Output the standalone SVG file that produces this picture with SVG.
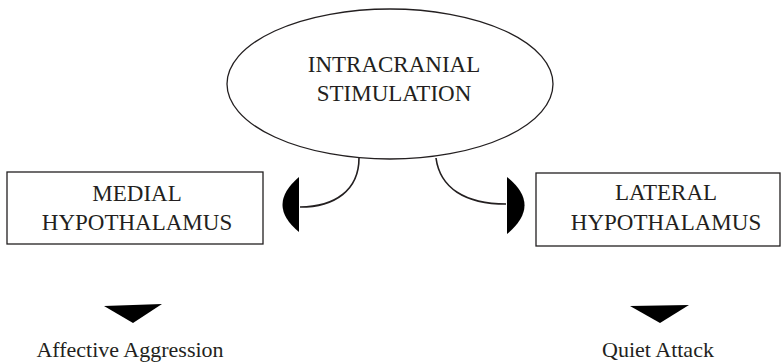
<svg xmlns="http://www.w3.org/2000/svg" width="782" height="364" viewBox="0 0 782 364">
  <style>
    .shape { fill: #ffffff; stroke: #231f20; stroke-width: 1.3; }
    .label { font-family: "Liberation Serif", "Times New Roman", serif; font-size: 23px; fill: #231f20; text-anchor: middle; }
    .outcome { font-family: "Liberation Serif", "Times New Roman", serif; font-size: 22px; fill: #231f20; text-anchor: middle; }
    .link { fill: none; stroke: #231f20; stroke-width: 1.6; }
    .head { fill: #000000; stroke: none; }
  </style>

  <!-- central stimulus -->
  <g id="intracranial-stimulation">
    <ellipse class="shape" cx="390" cy="84" rx="163" ry="75"/>
    <text class="label" x="394" y="72">INTRACRANIAL</text>
    <text class="label" x="394" y="101">STIMULATION</text>
  </g>

  <!-- target regions -->
  <g id="medial-hypothalamus">
    <rect class="shape" x="7" y="172" width="256" height="72"/>
    <text class="label" x="137" y="201">MEDIAL</text>
    <text class="label" x="137" y="230">HYPOTHALAMUS</text>
  </g>

  <g id="lateral-hypothalamus">
    <rect class="shape" x="536" y="173" width="244" height="73"/>
    <text class="label" x="666" y="200">LATERAL</text>
    <text class="label" x="666" y="230">HYPOTHALAMUS</text>
  </g>

  <!-- behavioural outcomes -->
  <g id="affective-aggression">
    <text class="outcome" x="130" y="357">Affective Aggression</text>
  </g>

  <g id="quiet-attack">
    <text class="outcome" x="658" y="357">Quiet Attack</text>
  </g>

  <!-- connectors -->
  <g id="connectors">
    <path class="link" d="M 359 158 C 359 190 335 207 300 207"/>
    <path class="head" d="M 299 177 Q 266 205 299 232 Z"/>

    <path class="link" d="M 436 158 C 440 188 465 204 506 204"/>
    <path class="head" d="M 507 177 Q 542 205 507 234 Z"/>

    <path class="head" d="M 104 306 L 162 304 L 133 323 Z"/>
    <path class="head" d="M 630 306 L 689 305 L 660 323 Z"/>
  </g>
</svg>
